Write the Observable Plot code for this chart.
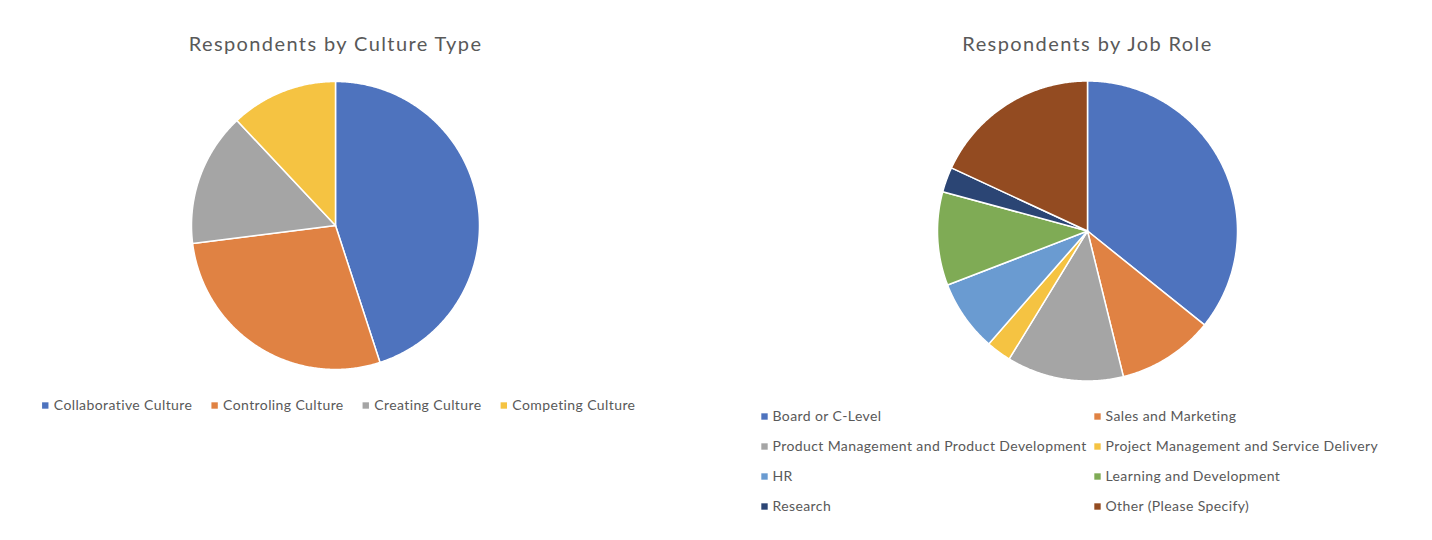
<!DOCTYPE html>
<html><head><meta charset="utf-8">
<script src="https://cdn.jsdelivr.net/npm/d3@7"></script>
<script src="https://cdn.jsdelivr.net/npm/@observablehq/plot@0.6"></script>
<style>body{margin:0;background:#fff;}</style>
</head><body><div id="chart"></div>
<script>
// ---- data ----
const titles = ["Respondents by Culture Type", "Respondents by Job Role"];
const cultureLabels = ["Collaborative Culture", "Controling Culture", "Creating Culture", "Competing Culture"];
const cultureValues = [45, 28, 15, 12];
const roleLabels = ["Board or C-Level", "Sales and Marketing", "Product Management and Product Development",
  "Project Management and Service Delivery", "HR", "Learning and Development", "Research", "Other (Please Specify)"];
const roleValues = [35.8, 10.4, 12.6, 2.7, 7.7, 10.1, 2.7, 18.1];

// ---- styles ----
const cultureColors = ["#4E73BE", "#E08243", "#A5A5A5", "#F5C342"];
const roleColors = ["#4E73BE", "#E08243", "#A5A5A5", "#F5C342", "#6A9BD1", "#7FAB55", "#2B4574", "#934B21"];
const W = 1432, H = 540;
const FONT = "Lato, 'Open Sans', sans-serif";
const TEXT = "#595959";
const TITLE_SIZE = 20, TITLE_LS = 1.4, LEG_SIZE = 14, LEG_LS = 0.4;

// ---- layout ----
const pie1 = {cx: 335, cy: 225, r: 144, titleY: 44};
const pie2 = {cx: 1087, cy: 230.5, r: 150, titleY: 44};

function slicePoints(labels, values, p) {
  const arcs = d3.pie().sort(null).value(d => d)(values);
  const pts = [];
  arcs.forEach((a, i) => {
    const n = Math.max(2, Math.ceil((a.endAngle - a.startAngle) / (Math.PI / 360)));
    pts.push({key: labels[i], x: p.cx, y: p.cy});
    for (let k = 0; k <= n; k++) {
      const t = a.startAngle + (a.endAngle - a.startAngle) * k / n;
      pts.push({key: labels[i], x: p.cx + p.r * Math.sin(t), y: p.cy - p.r * Math.cos(t)});
    }
  });
  return pts;
}

const ctx = document.createElement("canvas").getContext("2d");
ctx.font = LEG_SIZE + "px " + FONT;
const tw = s => ctx.measureText(s).width + LEG_LS * (s.length - 1);

// culture legend: one centered row
const gap = 19, lead = 12;
const widths = cultureLabels.map(s => lead + tw(s));
const total = d3.sum(widths) + gap * (cultureLabels.length - 1);
let cursor = 338 - total / 2;
const legend1 = cultureLabels.map((s, i) => {
  const item = {key: s, sx: cursor + 3.5, tx: cursor + lead, y: 405};
  cursor += widths[i] + gap;
  return item;
});
// job role legend: two columns
const cols = [764, 1097], rowY0 = 416, rowStep = 30;
const legend2 = roleLabels.map((s, i) => ({key: s, sx: cols[i % 2], tx: cols[i % 2] + 8, y: rowY0 + Math.floor(i / 2) * rowStep}));
const legend = legend1.concat(legend2);

const pts = slicePoints(cultureLabels, cultureValues, pie1).concat(slicePoints(roleLabels, roleValues, pie2));
const titleData = [{t: titles[0], x: pie1.cx, y: pie1.titleY}, {t: titles[1], x: pie2.cx, y: pie2.titleY}];

const chart = Plot.plot({
  width: W, height: H, margin: 0,
  x: {domain: [0, W], range: [0, W], axis: null},
  y: {domain: [0, H], range: [0, H], axis: null},
  color: {domain: cultureLabels.concat(roleLabels), range: cultureColors.concat(roleColors)},
  style: {background: "#fff", fontFamily: FONT},
  marks: [
    Plot.line(pts, {x: "x", y: "y", z: "key", fill: "key", stroke: "white", strokeWidth: 1.5, curve: "linear-closed"}),
    Plot.text(titleData, {x: "x", y: "y", text: "t", fontSize: TITLE_SIZE, fill: TEXT, fontFamily: FONT}),
    Plot.dot(legend, {x: "sx", y: "y", fill: "key", symbol: "square", r: 3.6, stroke: null}),
    Plot.text(legend, {x: "tx", y: "y", text: "key", textAnchor: "start", fontSize: LEG_SIZE, fill: TEXT, fontFamily: FONT})
  ]
});
chart.querySelectorAll('g[font-size="' + TITLE_SIZE + '"]').forEach(g => g.style.letterSpacing = TITLE_LS + "px");
chart.querySelectorAll('g[font-size="' + LEG_SIZE + '"]').forEach(g => g.style.letterSpacing = LEG_LS + "px");
document.getElementById("chart").appendChild(chart);
</script>
</body></html>
